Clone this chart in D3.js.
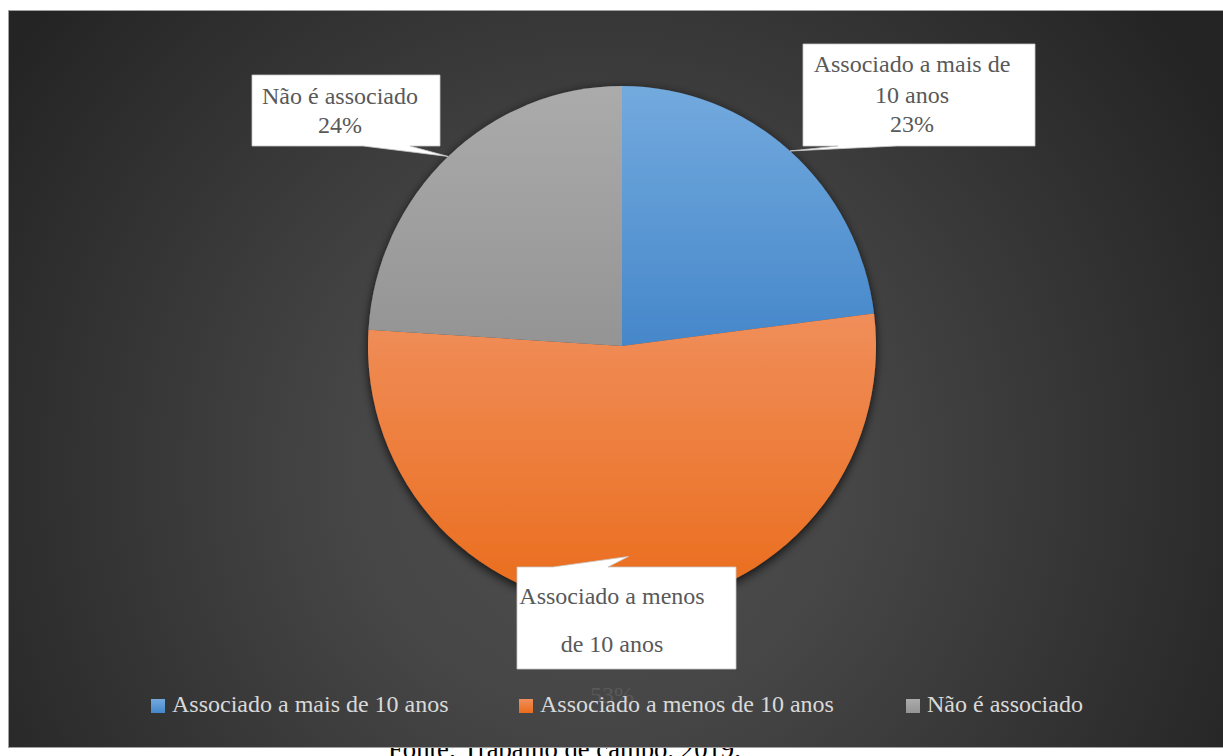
<!DOCTYPE html>
<html>
<head>
<meta charset="utf-8">
<script src="https://cdn.jsdelivr.net/npm/d3@7/dist/d3.min.js"></script>
<style>
  html, body { margin: 0; padding: 0; background: #ffffff; }
  svg { display: block; }
</style>
</head>
<body>
<svg id="chart" width="1223" height="756"></svg>
<script>
// Associação dos entrevistados (percentual)
const categories = ["Associado a mais de 10 anos", "Associado a menos de 10 anos", "Não é associado"];
const values = [23, 53, 24];
const labelLines = [["Associado a mais de", "10 anos"], ["Associado a menos", "de 10 anos"], ["Não é associado"]];
const sourceNote = "Fonte: Trabalho de campo, 2019.";

const sliceColors = [
  { top: "#73aade", bottom: "#4587ca" },
  { top: "#f08e5a", bottom: "#ea6c1b" },
  { top: "#ababab", bottom: "#949494" }
];

const FONT = "'Liberation Serif', 'Times New Roman', Times, 'DejaVu Serif', serif";
const W = 1223, H = 756;
const svg = d3.select("#chart").style("font-family", FONT);
const defs = svg.append("defs");

// source line sits under the chart frame, which overlaps its upper part
svg.append("text")
  .attr("x", 388).attr("y", 758)
  .attr("font-family", FONT)
  .attr("font-size", 26.7)
  .attr("fill", "#000")
  .text(sourceNote);

// chart frame background
const bg = defs.append("radialGradient").attr("id", "bg")
  .attr("gradientUnits", "userSpaceOnUse")
  .attr("cx", 600).attr("cy", 470).attr("r", 720);
bg.append("stop").attr("offset", 0).attr("stop-color", "#4f4f4f");
bg.append("stop").attr("offset", 0.35).attr("stop-color", "#464646");
bg.append("stop").attr("offset", 1).attr("stop-color", "#242424");

svg.append("rect")
  .attr("x", 8.5).attr("y", 10.5)
  .attr("width", W + 10).attr("height", 737)
  .attr("fill", "url(#bg)")
  .attr("stroke", "#a0a0a0").attr("stroke-width", 1);

// slice gradients
sliceColors.forEach((c, i) => {
  const g = defs.append("linearGradient").attr("id", "slice" + i)
    .attr("x1", 0).attr("y1", 0).attr("x2", 0).attr("y2", 1);
  g.append("stop").attr("offset", 0).attr("stop-color", c.top);
  g.append("stop").attr("offset", 1).attr("stop-color", c.bottom);
});

const shadow = defs.append("filter").attr("id", "shadow")
  .attr("x", "-20%").attr("y", "-20%").attr("width", "140%").attr("height", "140%");
shadow.append("feDropShadow")
  .attr("dx", 0).attr("dy", 3).attr("stdDeviation", 5)
  .attr("flood-color", "#000").attr("flood-opacity", 0.8);

// pie
const cx = 622, cy = 346, rx = 254, ry = 260;
const pie = d3.pie().sort(null).value(d => d);
const arcs = pie(values);
const arc = d3.arc().innerRadius(0).outerRadius(rx);

const pieG = svg.append("g")
  .attr("transform", `translate(${cx},${cy}) scale(1,${ry / rx})`)
  .attr("filter", "url(#shadow)");

pieG.selectAll("path")
  .data(arcs)
  .join("path")
  .attr("d", arc)
  .attr("fill", (d, i) => `url(#slice${i})`);

// point on the pie at the middle angle of a slice
function anchor(d, k) {
  const a = (d.startAngle + d.endAngle) / 2;
  return [cx + Math.sin(a) * rx * k, cy - Math.cos(a) * ry * k];
}

// data label callouts: box, pointer base along one edge, pointer depth into pie
const callouts = [
  { box: [803, 44, 1035, 146], side: "bottom", base: [838, 897], k: 1.0, cxText: 912, baselines: [72, 103, 132] },
  { box: [517, 567, 736, 669], side: "top", base: [553, 608], k: 0.81, cxText: 612, baselines: [604, 652, 703] },
  { box: [252, 75, 440, 146], side: "bottom", base: [363, 410], k: 1.0, cxText: 340, baselines: [104, 133] }
];

const labelG = svg.append("g");
arcs.forEach((d, i) => {
  const c = callouts[i];
  const [x0, y0, x1, y1] = c.box;
  const [tx, ty] = anchor(d, c.k);
  let path;
  if (c.side === "bottom") {
    path = `M${x0},${y0}H${x1}V${y1}H${c.base[1]}L${tx},${ty}L${c.base[0]},${y1}H${x0}Z`;
  } else {
    path = `M${x0},${y0}H${c.base[0]}L${tx},${ty}L${c.base[1]},${y0}H${x1}V${y1}H${x0}Z`;
  }
  labelG.append("path")
    .attr("d", path)
    .attr("fill", "#ffffff")
    .attr("stroke", "#c8c8c8").attr("stroke-width", 0.8);

  const lines = labelLines[i].concat([`${values[i]}%`]);
  lines.forEach((t, j) => {
    labelG.append("text")
      .attr("x", c.cxText).attr("y", c.baselines[j])
      .attr("text-anchor", "middle")
      .attr("font-family", FONT)
      .attr("font-size", 24)
      .attr("fill", "#595959")
      .text(t);
  });
});

// legend
const legendX = [151, 519, 906];
const legend = svg.append("g");
categories.forEach((name, i) => {
  legend.append("rect")
    .attr("x", legendX[i]).attr("y", 699)
    .attr("width", 14).attr("height", 14)
    .attr("fill", `url(#slice${i})`);
  legend.append("text")
    .attr("x", legendX[i] + 21).attr("y", 712)
    .attr("font-family", FONT)
    .attr("font-size", 24)
    .attr("fill", "#d9d9d9")
    .text(name);
});
</script>
</body>
</html>
